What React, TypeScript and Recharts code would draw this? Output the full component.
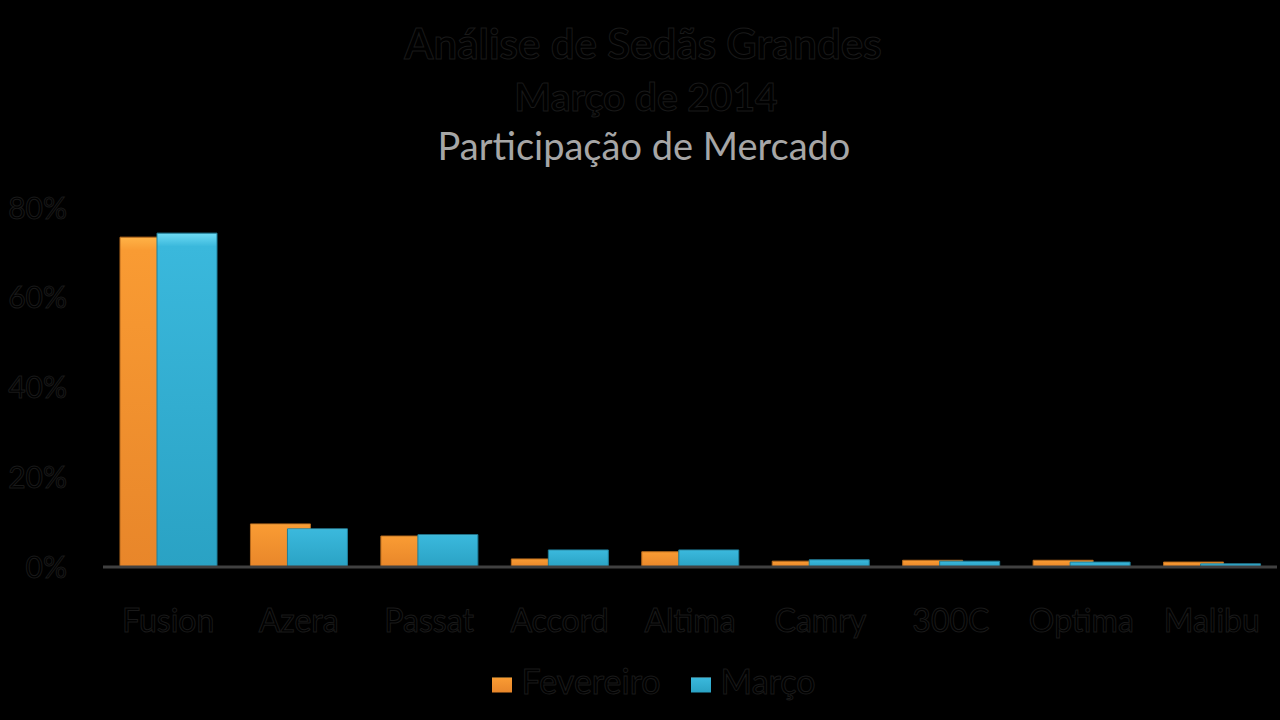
import { BarChart, Bar, XAxis, YAxis, Legend } from "recharts";

const categories = ["Fusion", "Azera", "Passat", "Accord", "Altima", "Camry", "300C", "Optima", "Malibu"];
const fevereiro = [73.5, 9.6, 6.9, 1.8, 3.4, 1.3, 1.5, 1.5, 1.1];
const marco = [74.4, 8.5, 7.2, 3.8, 3.8, 1.6, 1.3, 1.1, 0.7];
const yTicks = [0, 20, 40, 60, 80];

const data = categories.map((name, i) => ({
  name,
  Fevereiro: fevereiro[i],
  Março: marco[i],
}));

const ghostText = { fill: "#000", stroke: "#191919", strokeWidth: 1 };

export default function App() {
  return (
    <div style={{ position: "relative", width: 1280, height: 720, background: "#000", fontFamily: "Lato, sans-serif" }}>
      <style>{`body{margin:0;background:#000}`}</style>
      <div style={{ position: "absolute", top: 0, left: 0, width: 1280 }}>
        <svg width={1280} height={180}>
          <text x={643} y={59} textAnchor="middle" fontSize={42} fontWeight="bold" {...ghostText}>
            Análise de Sedãs Grandes
          </text>
          <text x={646} y={111} textAnchor="middle" fontSize={39} fontWeight="bold" {...ghostText}>
            Março de 2014
          </text>
          <text x={644} y={160} textAnchor="middle" fontSize={38} fill="#a6a6a6">
            Participação de Mercado
          </text>
        </svg>
      </div>
      <div style={{ position: "absolute", top: 0, left: 0 }}>
        <BarChart
          width={1280}
          height={720}
          data={data}
          margin={{ top: 208, right: 3, left: 0, bottom: 0 }}
          barSize={60}
          barGap={-23}
        >
          <defs>
            <linearGradient id="gOrange" x1="0" y1="0" x2="0" y2="1">
              <stop offset="0" stopColor="#ffb347" />
              <stop offset="0.04" stopColor="#f99b33" />
              <stop offset="1" stopColor="#e8862a" />
            </linearGradient>
            <linearGradient id="gBlue" x1="0" y1="0" x2="0" y2="1">
              <stop offset="0" stopColor="#6fdcf5" />
              <stop offset="0.04" stopColor="#3ab8dc" />
              <stop offset="1" stopColor="#2aa2c4" />
            </linearGradient>
          </defs>
          <XAxis
            dataKey="name"
            height={46}
            interval={0}
            axisLine={{ stroke: "#404040", strokeWidth: 3 }}
            tickLine={false}
            tick={{ ...ghostText, fontSize: 32 }}
            tickMargin={36}
          />
          <YAxis
            width={103}
            domain={[0, 80]}
            ticks={yTicks}
            tickFormatter={(v) => `${v}%`}
            axisLine={false}
            tickLine={false}
            tick={{ ...ghostText, fontSize: 30 }}
            tickMargin={30}
          />
          <Legend
            verticalAlign="bottom"
            height={74}
            iconType="rect"
            iconSize={20}
            wrapperStyle={{ paddingTop: 33, paddingLeft: 20, bottom: -14, fontSize: 34 }}
            formatter={(value, _entry, index) => (
              <span
                style={{
                  color: "#000",
                  WebkitTextStroke: "1px #191919",
                  marginLeft: 6,
                  marginRight: index === 0 ? 20 : 0,
                }}
              >
                {value}
              </span>
            )}
          />
          <Bar dataKey="Fevereiro" fill="url(#gOrange)" stroke="#b86a1c" strokeWidth={1} isAnimationActive={false} legendType="rect" />
          <Bar dataKey="Março" fill="url(#gBlue)" stroke="#1f7e99" strokeWidth={1} isAnimationActive={false} legendType="rect" />
        </BarChart>
      </div>
    </div>
  );
}
